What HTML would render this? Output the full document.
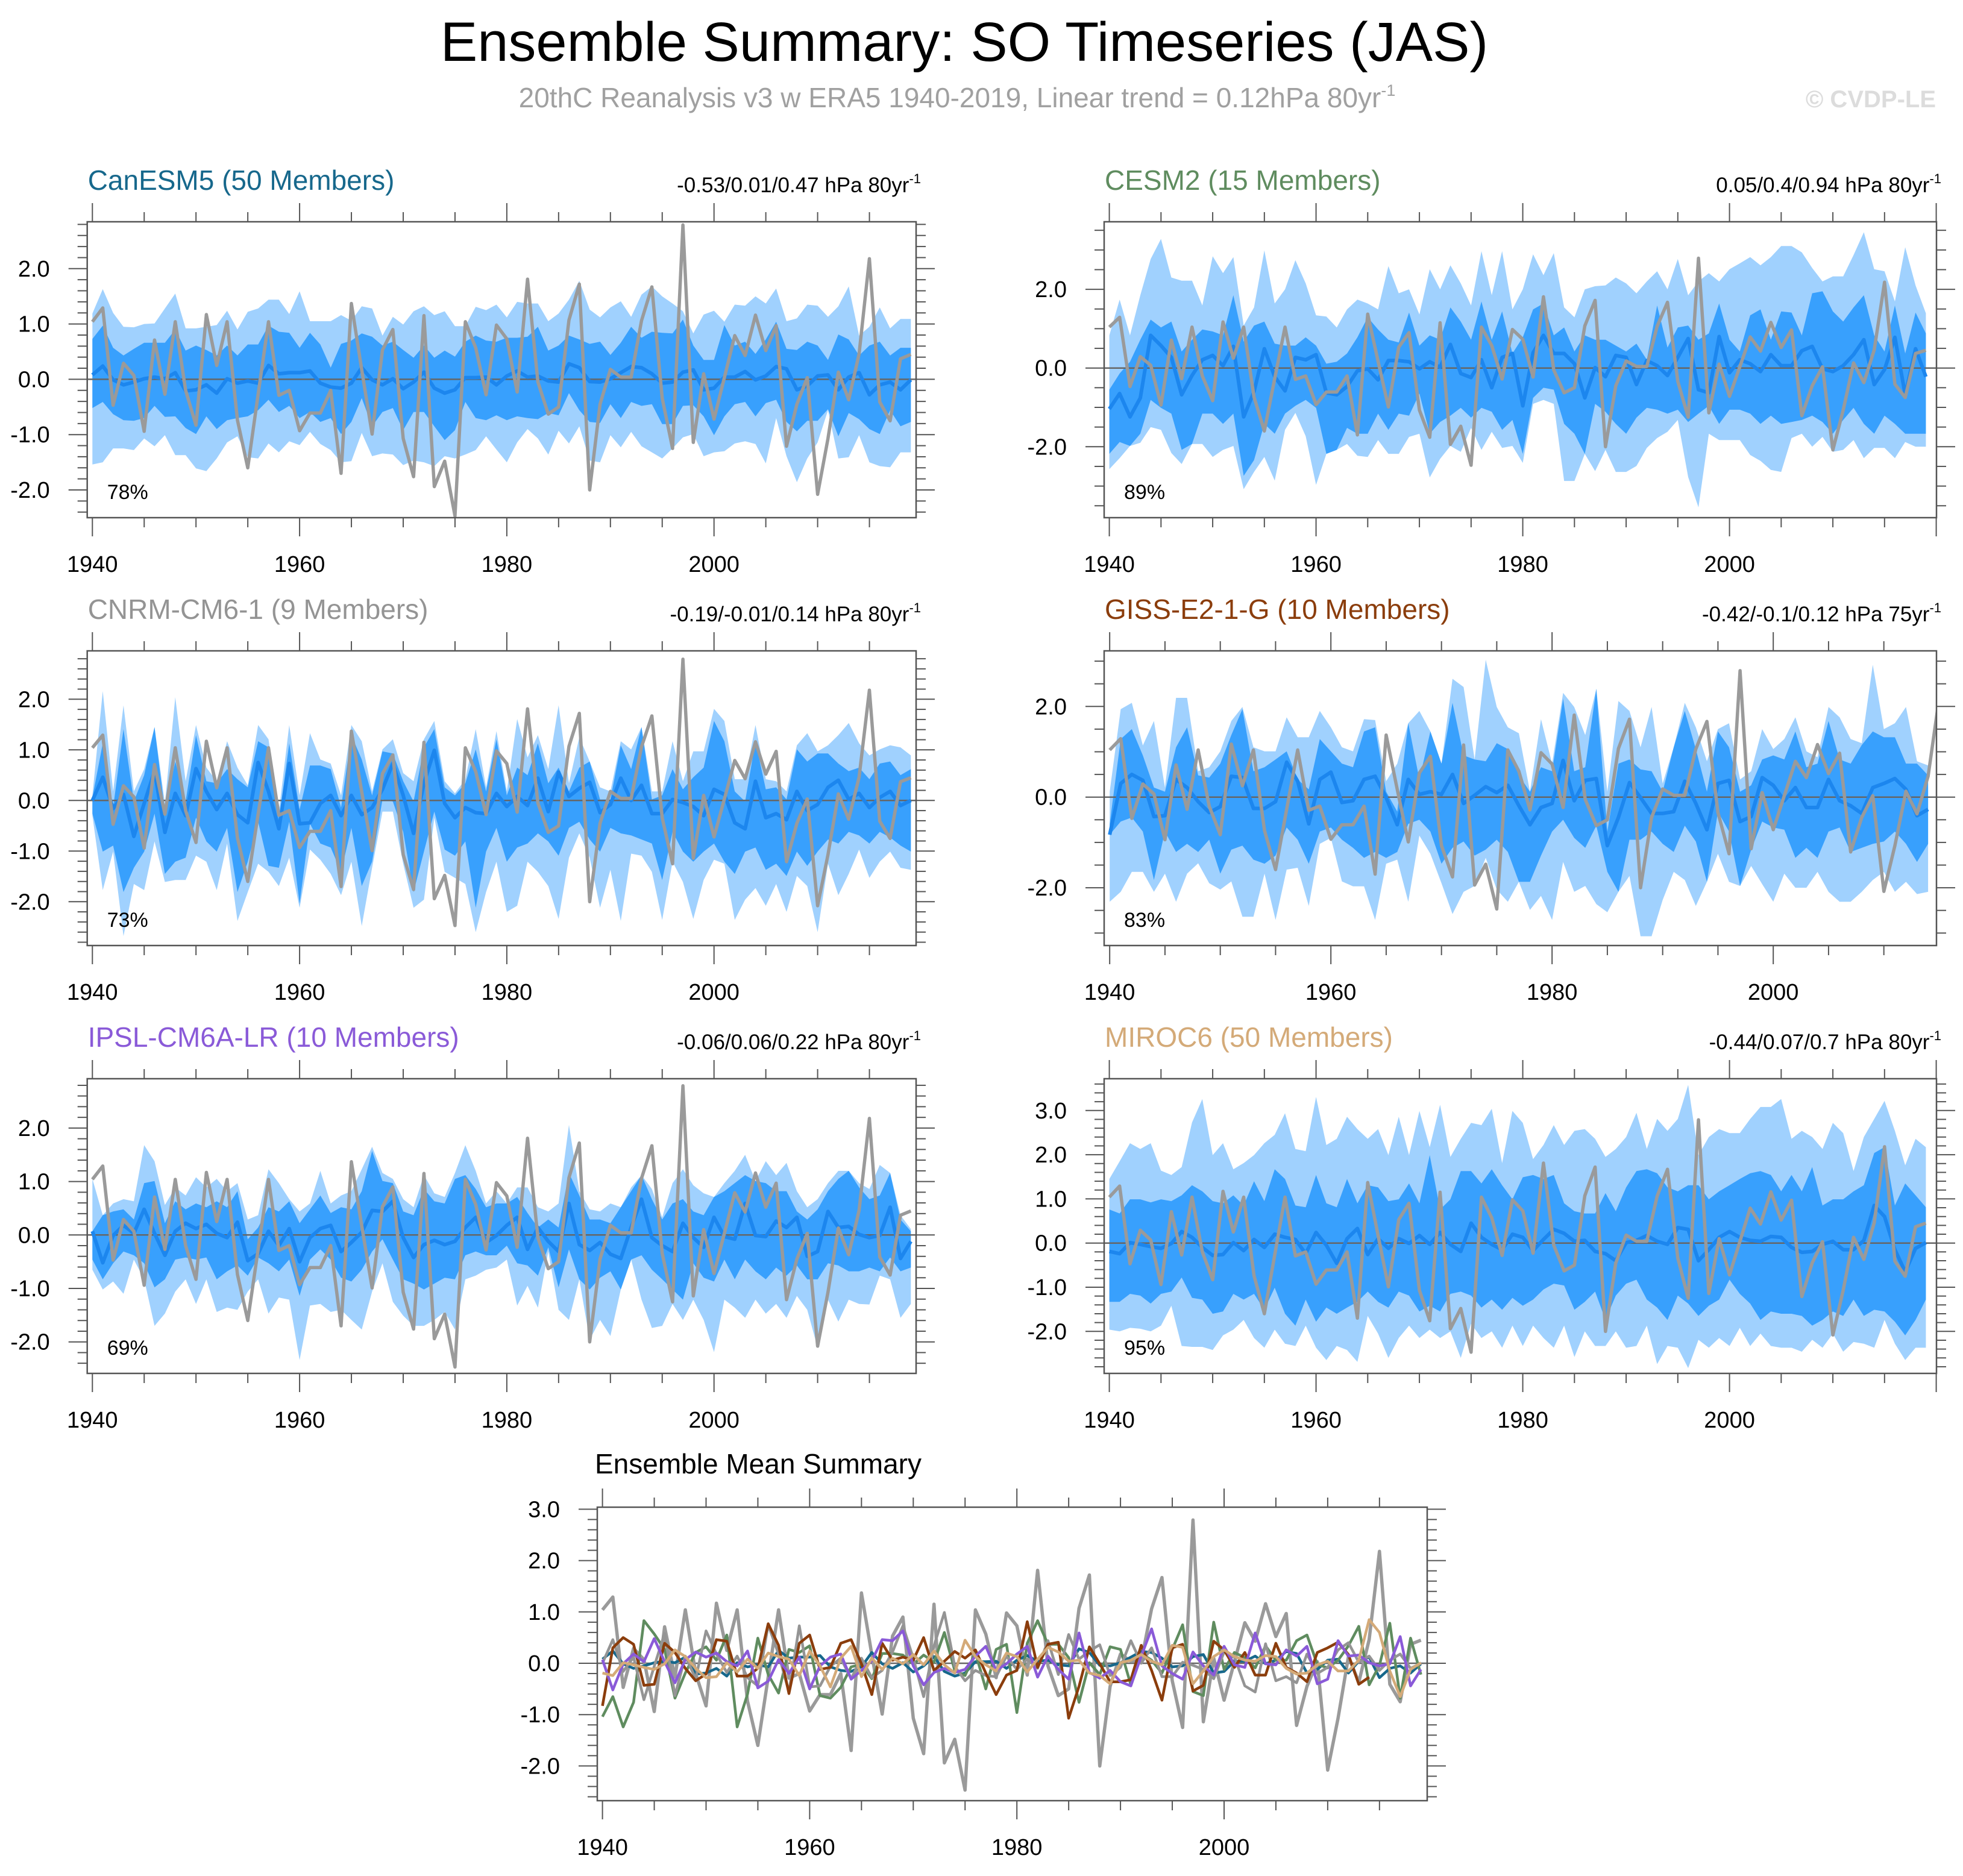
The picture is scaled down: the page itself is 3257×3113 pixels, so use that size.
<!DOCTYPE html>
<html><head><meta charset="utf-8"><title>Ensemble Summary: SO Timeseries (JAS)</title>
<style>
html,body{margin:0;padding:0;background:#fff;}
svg{display:block;font-family:"Liberation Sans",Arial,sans-serif;}
</style></head>
<body>
<svg id="chart" xmlns="http://www.w3.org/2000/svg" width="3257" height="3113" viewBox="0 0 3257 3113">
<text x="1600" y="101" font-size="92" text-anchor="middle" fill="#000">Ensemble Summary: SO Timeseries (JAS)</text>
<text x="1588" y="178" font-size="46" text-anchor="middle" fill="#a0a0a0">20thC Reanalysis v3 w ERA5 1940-2019, Linear trend = 0.12hPa 80yr<tspan font-size="27" dy="-19">-1</tspan></text>
<text x="3212" y="178" font-size="40" font-weight="bold" text-anchor="end" fill="#dcdcdc">© CVDP-LE</text>
<text x="987" y="2445" font-size="46" fill="#000">Ensemble Mean Summary</text>
<g id="panels"></g>
</svg>
<script>
const obs = [1.04,1.29,-0.47,0.29,0.07,-0.94,0.71,-0.27,1.04,-0.2,-0.83,1.17,0.25,1.04,-0.74,-1.6,-0.27,1.04,-0.29,-0.2,-0.93,-0.61,-0.61,-0.2,-1.7,1.37,0.17,-0.99,0.53,0.9,-1.07,-1.76,1.15,-1.94,-1.48,-2.47,1.04,0.57,-0.28,0.98,0.73,-0.23,1.81,-0.05,-0.63,-0.5,1.07,1.72,-2.0,-0.45,0.18,0.04,0.04,1.06,1.67,-0.34,-1.25,2.79,-1.14,0.1,-0.72,0.03,0.79,0.43,1.16,0.52,0.97,-1.21,-0.45,0.03,-2.08,-1.07,0.13,-0.37,0.46,2.18,-0.41,-0.75,0.37,0.45];

const canMean = [0.08,0.24,-0.01,-0.1,-0.05,0.01,0.04,0.01,0.12,-0.21,-0.19,-0.1,-0.25,0.01,-0.07,-0.03,-0.07,0.25,0.1,0.12,0.12,0.15,-0.07,-0.14,-0.16,-0.07,0.21,-0.01,-0.1,0.01,-0.17,-0.05,0.13,-0.16,-0.25,-0.19,0.03,0.03,0.04,-0.1,0.06,0.15,0.04,0.06,-0.03,-0.05,0.28,0.21,-0.04,-0.05,0.01,0.12,0.23,0.21,0.1,-0.07,-0.05,0.13,0.17,-0.19,-0.16,0.04,0.04,0.14,-0.01,0.06,0.23,0.19,-0.19,-0.12,0.06,0.08,-0.19,0.04,0.12,-0.28,-0.1,-0.05,-0.19,-0.01];
const canOutUp = [1.19,1.63,1.2,0.95,0.94,1.0,1.01,1.28,1.55,0.92,0.92,0.95,0.98,1.24,0.9,1.22,1.28,1.44,1.44,1.18,1.59,1.05,1.05,1.05,1.16,1.06,1.32,1.28,0.79,1.13,0.99,1.23,1.32,1.16,1.23,0.96,0.96,1.31,1.25,1.35,1.12,1.4,1.37,1.37,1.05,1.19,1.44,1.78,1.26,1.12,1.3,1.41,1.13,1.53,1.68,1.5,1.37,1.23,0.83,1.17,1.24,1.04,1.35,1.33,1.5,1.37,1.64,1.05,1.1,1.35,1.33,1.13,1.32,1.68,0.79,0.95,1.3,0.92,1.09,1.09];
const canInUp = [0.73,0.97,0.57,0.43,0.55,0.66,0.66,0.66,0.9,0.52,0.61,0.53,0.43,0.61,0.43,0.63,0.63,0.97,0.86,0.84,0.57,0.84,0.63,0.21,0.64,0.7,0.83,0.77,0.61,0.68,0.53,0.39,0.61,0.39,0.52,0.41,0.68,0.79,0.7,0.68,0.75,0.75,0.77,0.95,0.52,0.61,0.79,0.72,0.64,0.68,0.44,0.66,0.95,0.75,0.86,0.84,0.83,1.08,0.61,0.35,0.35,0.98,0.61,0.68,0.46,0.72,1.04,0.55,0.53,0.68,0.61,0.35,0.81,0.72,0.43,0.61,0.68,0.43,0.57,0.57];
const canInLo = [-0.52,-0.41,-0.63,-0.74,-0.75,-0.7,-0.48,-0.68,-0.67,-0.88,-0.99,-0.67,-0.9,-0.74,-0.7,-0.67,-0.56,-0.37,-0.59,-0.48,-0.7,-0.59,-0.77,-0.7,-0.99,-0.77,-0.34,-0.85,-0.59,-0.52,-0.92,-0.59,-0.59,-0.85,-1.1,-0.92,-0.41,-0.7,-0.74,-0.65,-0.74,-0.67,-0.7,-0.72,-0.61,-0.65,-0.25,-0.56,-0.77,-0.79,-0.45,-0.7,-0.41,-0.48,-0.45,-0.81,-0.81,-0.48,-0.47,-0.67,-1.01,-0.67,-0.45,-0.41,-0.67,-0.43,-0.37,-0.77,-0.94,-0.75,-0.75,-0.54,-1.03,-0.61,-0.72,-0.9,-0.99,-0.56,-0.85,-0.77];
const canOutLo = [-1.54,-1.5,-1.25,-1.25,-1.28,-1.07,-1.21,-1.01,-1.37,-1.37,-1.61,-1.66,-1.43,-1.14,-1.03,-1.41,-1.43,-1.16,-1.32,-1.12,-1.19,-0.95,-1.17,-1.28,-1.5,-1.48,-0.97,-1.39,-1.34,-1.36,-1.55,-1.47,-1.5,-1.57,-1.39,-1.43,-1.36,-1.28,-1.03,-1.27,-1.5,-1.14,-0.9,-1.07,-1.36,-0.93,-1.16,-0.85,-1.47,-1.5,-1.01,-1.23,-0.95,-1.21,-1.32,-1.43,-1.25,-1.05,-0.99,-1.39,-1.32,-1.3,-1.16,-1.12,-1.17,-1.52,-0.7,-1.39,-1.86,-1.43,-1.14,-0.56,-1.43,-1.41,-1.01,-1.5,-1.57,-1.59,-1.32,-1.32];

const cesmMean = [-1.04,-0.65,-1.24,-0.76,0.83,0.57,0.27,-0.68,-0.19,0.21,0.32,0.06,0.55,-1.24,-0.6,0.49,-0.22,-0.58,0.27,0.21,0.34,-0.63,-0.68,-0.47,-0.07,-0.02,-0.3,0.19,0.19,0.16,-0.02,0.16,0.02,0.6,-0.14,-0.24,0.21,-0.5,0.27,0.37,-0.96,0.39,0.83,0.37,0.37,0.11,-0.76,0.01,-0.22,0.32,0.27,-0.42,0.19,0.06,-0.19,0.27,0.75,-0.55,-0.63,0.8,-0.12,0.21,0.11,-0.09,0.34,0.06,0.06,0.44,0.55,-0.02,-0.09,0.06,0.34,0.72,-0.42,-0.04,0.78,-0.68,0.49,-0.22];
const cesmOutUp = [0.83,1.74,0.83,1.85,2.77,3.28,2.3,2.22,2.22,1.59,2.84,2.41,2.82,1.08,1.54,2.99,1.64,2.0,2.74,2.15,1.34,1.31,1.03,1.49,1.74,1.64,1.49,2.59,1.9,2.0,1.36,2.51,2.0,2.61,2.15,1.59,2.97,1.85,2.97,1.49,2.0,2.89,2.36,2.92,1.54,1.29,2.0,2.08,2.1,2.3,2.15,1.9,2.2,2.46,2.0,2.77,1.85,2.2,2.41,2.2,2.51,2.66,2.82,2.61,2.82,3.1,3.1,2.94,2.54,2.2,2.33,2.33,2.87,3.45,2.51,2.46,1.69,3.07,2.1,1.39];
const cesmInUp = [-0.55,-0.14,0.16,0.72,1.23,1.03,1.18,0.42,0.72,0.98,0.93,0.83,1.85,0.67,1.08,1.18,0.62,0.57,0.57,0.78,0.57,0.11,0.16,0.37,0.78,1.29,0.98,0.72,0.65,1.41,0.57,0.83,0.72,1.54,1.18,0.72,1.69,0.72,1.44,0.21,0.78,1.49,1.64,0.83,1.03,0.42,0.83,0.72,0.72,0.57,0.42,0.62,0.21,1.59,0.52,1.03,1.08,0.72,0.88,1.64,0.72,0.42,1.34,1.49,0.72,1.44,1.41,0.83,1.9,1.95,1.44,1.18,1.54,1.85,0.83,0.42,1.59,0.37,1.41,0.88];
const cesmInLo = [-2.18,-1.88,-1.98,-1.67,-0.81,-1.01,-1.16,-2.08,-1.93,-1.16,-1.16,-1.42,-1.16,-2.74,-2.34,-1.42,-1.67,-1.16,-0.96,-0.81,-1.01,-2.18,-2.08,-1.52,-1.67,-1.67,-1.16,-1.57,-1.16,-1.21,-0.65,-1.67,-1.37,-1.21,-1.01,-1.26,-1.01,-1.11,-1.57,-1.32,-2.18,-0.76,-0.5,-0.55,-1.42,-1.67,-2.18,-0.91,-1.11,-1.42,-1.67,-1.26,-1.01,-1.06,-1.16,-1.06,-1.37,-1.16,-0.96,-1.42,-1.06,-1.06,-1.16,-1.42,-1.21,-1.42,-1.37,-1.32,-1.21,-1.37,-1.67,-1.32,-1.01,-1.42,-1.67,-1.21,-1.42,-1.67,-1.67,-1.67];
const cesmOutLo = [-2.57,-2.29,-1.98,-1.9,-1.5,-1.57,-2.16,-2.44,-1.83,-1.93,-2.26,-2.08,-1.98,-3.08,-2.64,-2.26,-2.86,-1.57,-1.14,-1.73,-2.97,-1.93,-1.78,-1.93,-2.23,-2.26,-1.83,-2.18,-2.18,-1.75,-1.67,-2.78,-2.31,-1.98,-2.13,-1.52,-2.08,-1.62,-2.03,-1.98,-2.41,-0.91,-0.81,-0.91,-2.87,-2.87,-2.18,-2.62,-2.08,-2.64,-2.64,-2.49,-2.03,-1.78,-1.62,-1.32,-2.77,-3.54,-1.67,-1.83,-1.83,-1.83,-2.21,-2.36,-2.59,-2.64,-1.78,-1.67,-2.0,-1.75,-2.13,-2.08,-1.83,-2.29,-2.03,-2.03,-2.29,-1.88,-2.0,-2.0];

const cnrmMean = [0.0,0.46,-0.16,0.12,-0.71,-0.06,0.58,-0.63,0.14,-0.3,0.63,0.18,-0.18,0.14,-0.28,-0.44,0.75,0.18,-0.56,0.73,-0.46,-0.44,-0.06,0.1,-0.3,0.1,-0.28,-0.14,0.22,0.73,0.1,-0.65,0.34,0.99,-0.06,-0.34,-0.14,-0.24,-0.26,0.14,-0.12,0.08,-0.1,0.44,-0.22,0.56,0.08,0.24,0.36,-0.24,-0.08,0.44,0.0,0.3,-0.26,-0.26,0.02,-0.04,-0.12,-0.3,0.22,0.12,-0.44,-0.56,0.38,-0.34,-0.26,-0.38,0.18,-0.2,-0.08,0.26,0.4,0.02,0.14,-0.14,0.06,0.18,-0.1,0.0];
const cnrmOutUp = [0.1,2.16,0.18,1.88,0.18,0.62,1.45,-0.06,2.04,0.38,1.49,0.65,0.38,1.17,0.65,0.3,1.49,1.21,-0.22,1.49,0.1,1.33,0.81,0.73,0.1,1.49,1.17,0.18,1.01,1.21,0.54,0.38,1.21,1.57,0.38,0.14,0.42,1.41,0.26,1.37,0.18,1.61,0.85,1.29,0.62,1.88,0.34,1.25,0.73,0.26,0.18,1.17,1.01,0.81,0.18,0.18,1.17,0.38,0.97,0.97,1.81,1.57,0.42,0.42,1.49,0.42,0.38,0.18,1.09,1.33,0.97,1.09,1.29,1.53,1.13,0.89,1.01,1.09,1.05,0.89];
const cnrmInUp = [0.06,1.13,-0.14,1.41,-0.02,0.5,1.45,-0.22,0.77,-0.02,1.29,0.38,0.34,0.62,0.42,0.26,1.17,1.05,-0.38,1.13,-0.18,0.69,0.69,0.62,-0.14,1.29,0.81,0.1,0.97,0.93,0.38,-0.02,1.05,1.41,0.26,0.1,0.34,1.01,0.18,1.21,0.1,0.65,0.5,1.13,0.34,0.65,0.18,0.65,0.77,0.02,0.02,1.09,0.62,1.45,0.02,0.1,0.62,0.22,0.46,0.65,1.57,1.17,0.18,-0.02,1.17,0.22,0.26,0.02,1.01,0.77,0.93,0.93,0.73,0.58,0.65,0.42,0.73,0.77,0.5,0.62];
const cnrmInLo = [-0.26,-1.01,-0.89,-1.81,-1.33,-1.01,-0.26,-1.45,-1.21,-1.13,-0.34,-0.81,-1.01,-0.54,-1.81,-1.21,-0.42,-1.29,-1.33,-0.42,-2.04,-0.46,-0.85,-0.93,-1.41,-0.54,-1.69,-1.21,0.02,-0.02,-0.62,-1.81,-1.01,-0.22,-0.97,-1.09,-0.81,-2.12,-1.01,-0.54,-1.21,-0.93,-0.85,-0.65,-0.81,-1.09,-0.54,-0.42,-0.77,-1.01,-0.54,-0.65,-0.69,-0.77,-0.85,-1.57,-0.62,-1.01,-1.21,-1.01,-0.85,-1.21,-1.45,-1.01,-0.93,-1.37,-1.25,-1.49,-1.01,-1.29,-1.01,-0.77,-0.85,-0.62,-0.69,-0.85,-0.62,-0.73,-0.89,-1.01];
const cnrmOutLo = [-0.3,-1.77,-1.01,-2.68,-1.65,-1.77,-0.81,-1.61,-1.57,-1.57,-1.09,-1.21,-1.77,-0.85,-2.38,-1.81,-1.25,-1.41,-1.69,-1.13,-2.12,-0.97,-1.17,-1.45,-1.87,-1.21,-2.48,-1.33,-0.22,-0.22,-1.25,-2.12,-1.96,-0.34,-1.41,-1.53,-1.65,-2.6,-1.81,-1.21,-2.2,-2.08,-1.21,-1.41,-1.69,-2.34,-1.13,-0.65,-1.13,-2.12,-1.37,-2.38,-1.05,-1.09,-1.41,-2.36,-1.21,-1.61,-2.34,-1.57,-1.17,-1.25,-2.36,-1.96,-1.73,-2.08,-1.65,-2.2,-1.49,-1.69,-2.6,-1.25,-1.87,-1.45,-0.97,-1.53,-1.21,-1.01,-1.33,-1.37];

const gissMean = [-0.83,0.3,0.5,0.37,-0.43,-0.41,0.39,0.21,-0.1,-0.34,-0.21,0.46,0.43,-0.25,-0.25,-0.1,0.77,0.35,-0.59,0.39,0.55,-0.12,-0.08,0.39,0.46,-0.01,-0.61,0.39,0.06,0.12,0.06,0.5,-0.14,0.04,0.23,0.1,0.26,-0.19,-0.61,-0.23,-0.14,0.81,-0.08,0.37,0.41,-1.07,-0.45,0.32,-0.01,-0.36,-0.36,-0.32,0.35,-0.14,-0.72,0.3,0.37,-0.54,-0.43,0.43,0.26,-0.08,0.21,-0.23,-0.23,0.39,-0.08,-0.19,-0.36,0.21,0.3,0.41,0.17,-0.41,-0.27];
const gissOutUp = [0.12,1.94,2.08,1.14,1.68,0.21,2.19,2.19,0.57,0.66,1.01,1.68,1.99,1.1,1.01,1.01,1.76,1.32,1.32,1.9,1.54,1.1,1.01,1.72,1.7,0.35,0.74,1.63,1.9,1.06,0.74,2.61,2.43,0.79,3.03,1.99,1.54,1.41,0.12,1.72,0.74,2.3,1.99,1.37,2.34,0.12,2.12,1.9,1.1,1.99,0.3,0.74,2.08,1.54,0.79,1.5,1.63,0.39,0.57,1.5,1.06,1.28,1.76,1.01,0.88,1.99,1.76,1.28,1.19,2.92,1.5,1.63,1.99,0.79,0.7];
const gissInUp = [-0.59,1.28,1.5,0.92,0.21,0.12,1.1,1.54,0.48,0.43,0.74,1.37,1.94,0.57,0.66,0.83,1.01,0.39,0.17,1.28,1.01,0.74,0.66,1.45,1.54,0.12,-0.32,1.63,0.39,1.45,0.74,2.08,0.92,0.83,0.79,1.19,1.06,0.48,0.12,0.66,0.57,2.17,0.57,0.66,2.39,-0.76,0.74,0.83,0.61,0.57,0.12,1.1,1.9,1.06,0.12,1.45,1.1,0.12,0.26,0.83,0.92,0.83,1.45,0.66,0.74,1.68,0.83,0.74,1.15,1.45,1.32,1.32,0.74,0.74,0.48];
const gissInLo = [-0.76,-0.54,-0.45,-0.76,-1.83,-0.76,-1.21,-1.03,-1.21,-0.94,-1.69,-1.16,-1.07,-1.38,-1.47,-1.29,-0.67,-0.94,-1.47,-0.76,-0.67,-0.94,-1.12,-1.34,-1.21,-1.34,-1.21,-0.59,-0.5,-0.76,-1.47,-1.12,-0.98,-1.29,-1.16,-0.94,-1.21,-1.87,-1.87,-1.29,-0.76,-0.5,-0.9,-1.12,-0.63,-1.65,-2.09,-0.94,-0.94,-0.76,-1.03,-1.21,-0.63,-0.98,-1.87,-0.32,-0.76,-1.96,-1.16,-0.54,-0.67,-0.72,-1.34,-1.12,-1.34,-0.76,-0.67,-1.21,-1.12,-1.03,-0.98,-0.76,-1.03,-1.43,-1.03];
const gissOutLo = [-2.31,-2.09,-1.65,-1.65,-2.09,-1.69,-2.31,-1.69,-1.46,-1.9,-2.04,-1.86,-2.64,-2.64,-1.69,-2.71,-1.6,-1.56,-2.4,-1.03,-0.9,-1.86,-1.97,-1.97,-2.71,-1.47,-1.38,-2.31,-0.85,-1.25,-1.9,-2.58,-2.09,-1.96,-1.34,-2.04,-2.31,-1.47,-2.49,-2.18,-2.71,-1.43,-2.09,-1.96,-2.36,-2.54,-1.74,-1.74,-3.07,-3.07,-2.27,-1.65,-1.83,-2.4,-1.87,-1.25,-1.87,-1.43,-1.52,-1.92,-2.31,-1.69,-2.0,-2.0,-1.65,-2.09,-2.31,-2.31,-2.09,-1.83,-1.65,-2.09,-1.87,-2.14,-2.09];

const ipslMean = [0.07,-0.52,-0.01,0.18,0.03,0.48,0.03,-0.38,0.07,0.22,0.12,0.2,0.03,-0.05,0.24,-0.48,-0.35,0.07,-0.2,0.12,-0.5,-0.05,0.12,0.18,-0.31,-0.14,0.05,0.46,0.44,0.63,-0.05,-0.42,-0.18,-0.1,-0.18,-0.12,0.14,0.33,-0.14,-0.01,0.18,0.33,-0.27,0.14,-0.12,-0.31,0.59,-0.18,-0.29,-0.14,-0.36,-0.44,0.14,0.67,-0.05,-0.2,-0.31,0.22,-0.05,-0.23,0.33,-0.03,-0.08,0.59,-0.01,-0.03,0.26,0.14,0.33,-0.4,-0.31,0.44,0.14,0.16,0.01,-0.05,-0.01,0.52,-0.44,-0.12];
const ipslOutUp = [1.05,0.37,0.59,0.67,0.63,1.68,1.38,0.56,0.89,0.74,1.08,0.89,1.05,0.82,0.97,0.29,0.37,1.23,0.97,0.67,0.44,0.59,1.2,0.59,0.74,0.82,1.23,1.65,1.16,1.05,0.67,0.52,1.12,0.78,0.71,1.16,1.68,1.2,0.59,0.82,0.56,0.89,0.89,0.52,0.44,0.59,2.06,0.82,0.48,0.44,0.59,0.29,0.89,1.12,0.86,0.33,0.97,1.23,0.93,0.78,0.59,0.97,1.2,1.5,0.89,1.38,1.12,1.35,0.82,0.52,0.67,0.97,1.2,1.05,0.97,0.86,1.31,0.67,0.37,0.11];
const ipslInUp = [0.03,0.37,0.44,0.48,0.29,0.97,1.01,0.22,0.63,0.48,0.59,0.52,0.63,0.52,0.82,-0.08,0.14,0.52,0.44,0.63,0.22,0.48,0.74,0.41,0.52,0.48,0.82,1.57,1.01,0.97,0.44,0.37,0.86,0.63,0.59,1.05,1.12,0.86,0.52,0.59,0.59,0.71,0.41,0.14,0.29,0.14,1.16,0.74,0.29,0.29,0.22,0.52,0.82,1.12,0.67,0.29,0.59,0.67,0.44,0.37,0.71,0.82,0.97,1.12,1.01,0.97,0.82,0.82,0.44,0.29,0.48,0.82,1.05,1.2,0.89,0.67,0.74,1.16,0.29,0.07];
const ipslInLo = [-0.46,-0.83,-0.53,-0.31,-0.38,-0.53,-0.98,-0.83,-0.46,-0.42,-0.46,-0.42,-0.83,-0.68,-0.57,-0.76,-0.42,-0.53,-0.68,-0.46,-1.14,-0.46,-0.27,-0.46,-0.8,-0.87,-0.65,-0.31,-0.08,-0.46,-0.83,-0.91,-1.02,-0.91,-0.8,-0.83,-0.38,-0.31,-0.38,-0.38,-0.2,-0.53,-0.57,-0.76,-0.23,-0.98,-0.27,-0.83,-1.02,-0.8,-0.68,-1.02,-0.46,-0.38,-0.65,-0.83,-1.02,-1.21,-0.53,-0.8,-0.87,-0.46,-0.83,-0.46,-0.68,-0.83,-0.61,-0.76,-0.57,-0.83,-0.83,-0.53,-0.57,-0.68,-0.68,-0.61,-0.68,-0.42,-0.68,-0.61];
const ipslOutLo = [-0.65,-1.02,-0.87,-1.1,-0.46,-0.83,-1.7,-1.47,-1.06,-0.83,-1.29,-0.83,-1.44,-1.36,-1.4,-1.06,-0.83,-1.47,-1.17,-1.21,-2.34,-1.32,-1.29,-1.44,-1.4,-1.59,-1.77,-1.06,-0.53,-1.25,-1.51,-1.7,-1.7,-1.59,-1.44,-1.77,-0.83,-0.76,-0.65,-0.61,-0.46,-1.32,-0.95,-1.36,-0.31,-1.4,-1.59,-0.83,-1.96,-1.59,-1.89,-0.83,-0.46,-1.21,-1.74,-1.7,-1.29,-1.59,-1.21,-1.59,-2.19,-1.21,-1.36,-1.55,-1.21,-1.47,-1.29,-1.55,-1.14,-1.4,-2.11,-1.21,-1.62,-1.21,-1.29,-1.3,-0.76,-0.83,-1.55,-1.29];

const mirocMean = [-0.19,-0.24,0.01,-0.03,-0.08,-0.12,-0.01,0.26,0.13,-0.1,-0.28,-0.26,0.01,-0.17,0.08,-0.1,0.2,0.13,0.08,-0.24,0.24,-0.05,-0.46,0.1,0.33,-0.26,0.1,-0.12,0.1,-0.01,0.17,-0.03,0.24,-0.03,-0.19,0.45,0.13,-0.03,-0.15,0.2,0.13,-0.17,0.08,0.31,0.22,0.04,0.06,-0.19,-0.24,-0.4,0.01,0.06,0.17,0.04,-0.03,0.35,0.31,-0.4,-0.15,0.13,0.26,0.13,0.06,0.04,0.15,0.13,-0.1,-0.21,-0.19,-0.03,0.04,-0.15,-0.15,0.06,0.85,0.6,-0.15,-0.65,-0.12,0.01];
const mirocOutUp = [1.45,1.85,2.26,2.13,2.26,1.64,1.54,1.72,2.73,3.26,1.99,2.26,1.67,1.81,1.99,2.26,2.45,2.94,2.13,2.08,3.31,2.22,2.36,2.86,2.58,2.36,2.58,1.99,2.86,1.99,2.99,2.17,3.13,1.95,2.36,2.72,2.67,3.04,1.81,2.99,2.72,1.9,2.22,2.67,2.22,2.54,2.58,2.36,1.95,2.13,2.4,2.95,2.13,2.81,2.54,2.81,3.58,1.99,2.4,2.58,2.49,2.49,2.81,3.08,3.08,3.26,2.36,2.54,2.4,2.13,2.72,2.49,1.63,2.4,2.81,3.22,2.54,1.76,2.36,2.17];
const mirocInUp = [0.76,0.67,0.99,0.99,0.92,0.99,0.95,1.08,1.31,1.17,0.95,0.9,1.08,0.85,1.4,0.95,1.67,1.45,0.85,0.81,1.54,0.9,0.81,1.45,0.9,1.31,1.26,0.95,0.99,1.35,0.9,1.99,0.76,0.99,1.63,1.63,1.35,1.67,1.31,0.99,1.49,1.54,1.45,1.54,0.9,0.72,0.67,0.67,1.13,0.72,1.26,1.63,1.67,1.58,1.26,1.17,1.31,1.31,0.99,1.17,1.31,1.45,1.58,1.63,1.54,1.17,1.54,1.17,1.72,0.85,0.99,0.99,1.17,1.31,2.04,2.17,0.85,1.35,1.08,0.81];
const mirocInLo = [-1.33,-1.33,-1.15,-1.19,-1.37,-1.15,-1.1,-0.78,-1.24,-1.28,-1.6,-1.55,-1.15,-1.28,-1.15,-1.51,-1.01,-1.6,-1.87,-1.28,-1.78,-1.46,-1.6,-1.46,-1.33,-1.1,-1.33,-1.46,-1.1,-1.19,-1.55,-1.42,-1.55,-1.15,-1.1,-1.19,-1.46,-1.28,-1.51,-1.24,-1.42,-1.28,-1.05,-0.92,-0.96,-1.51,-1.33,-1.1,-1.74,-1.19,-0.92,-0.83,-1.28,-1.46,-1.74,-1.19,-1.37,-1.65,-1.42,-1.28,-0.83,-1.15,-1.37,-1.74,-1.55,-1.6,-1.6,-1.65,-1.87,-1.74,-1.55,-1.65,-1.28,-1.65,-1.51,-1.55,-1.78,-2.09,-1.74,-1.28];
const mirocOutLo = [-1.96,-2.0,-1.92,-1.94,-2.0,-1.87,-1.42,-2.33,-2.35,-2.35,-2.42,-2.09,-1.96,-1.74,-2.15,-2.37,-1.96,-2.28,-2.33,-1.87,-2.37,-2.65,-2.33,-2.42,-2.69,-1.65,-2.05,-2.6,-2.15,-1.87,-2.15,-1.96,-2.15,-2.0,-2.6,-1.83,-2.15,-2.0,-2.37,-1.87,-2.33,-1.87,-2.15,-2.37,-1.87,-2.58,-2.0,-2.33,-2.33,-2.0,-2.37,-2.33,-1.87,-2.74,-2.33,-2.37,-2.83,-2.19,-2.37,-2.15,-2.33,-1.92,-2.33,-2.05,-2.33,-2.37,-2.37,-2.46,-2.19,-2.37,-2.05,-2.46,-2.24,-2.28,-2.37,-1.74,-2.28,-2.65,-2.37,-2.37];

const xTickLabels = [1940,1960,1980,2000];
const yTicksA = [-2,-1,0,1,2];
const yTicksB = [-2,0,2];
const yTicksC = [-2,-1,0,1,2,3];

const NS = "http://www.w3.org/2000/svg";
const root = document.getElementById("panels");
function mk(tag, attrs, parent){
  const e = document.createElementNS(NS, tag);
  for (const k in attrs) e.setAttribute(k, attrs[k]);
  (parent||root).appendChild(e);
  return e;
}
const LIGHT="#a0d1fe", DARK="#38a0fd", MEANC="#1c86ee", OBSC="#9a9a9a", AX="#555";

const panels = [
 {key:"canesm5", title:"CanESM5 (50 Members)", color:"#17688c", stats:"-0.53/0.01/0.47 hPa 80yr", pct:"78%", x0:144.7,x1:1520,top:368,bot:859,zero:629.4,unit:91.8,step:17.19,yt:yTicksA,minor:0.2, mean:canMean,ou:canOutUp,iu:canInUp,il:canInLo,ol:canOutLo},
 {key:"cesm2", title:"CESM2 (15 Members)", color:"#5f8c5f", stats:"0.05/0.4/0.94 hPa 80yr", pct:"89%", x0:1832,x1:3213,top:368,bot:859,zero:610.7,unit:65.3,step:17.15,yt:yTicksB,minor:0.5, mean:cesmMean,ou:cesmOutUp,iu:cesmInUp,il:cesmInLo,ol:cesmOutLo},
 {key:"cnrm-cm6-1", title:"CNRM-CM6-1 (9 Members)", color:"#949494", stats:"-0.19/-0.01/0.14 hPa 80yr", pct:"73%", x0:144.7,x1:1520,top:1080,bot:1569,zero:1328.3,unit:84,step:17.19,yt:yTicksA,minor:0.2, mean:cnrmMean,ou:cnrmOutUp,iu:cnrmInUp,il:cnrmInLo,ol:cnrmOutLo},
 {key:"giss-e2-1-g", title:"GISS-E2-1-G (10 Members)", color:"#8b3d0c", stats:"-0.42/-0.1/0.12 hPa 75yr", pct:"83%", x0:1832,x1:3213,top:1080,bot:1569,zero:1322.7,unit:75.2,step:18.35,yt:yTicksB,minor:0.5, mean:gissMean,ou:gissOutUp,iu:gissInUp,il:gissInLo,ol:gissOutLo},
 {key:"ipsl-cm6a-lr", title:"IPSL-CM6A-LR (10 Members)", color:"#8a5ad8", stats:"-0.06/0.06/0.22 hPa 80yr", pct:"69%", x0:144.7,x1:1520,top:1790,bot:2279,zero:2049.3,unit:88.7,step:17.19,yt:yTicksA,minor:0.2, mean:ipslMean,ou:ipslOutUp,iu:ipslInUp,il:ipslInLo,ol:ipslOutLo},
 {key:"miroc6", title:"MIROC6 (50 Members)", color:"#d4aa78", stats:"-0.44/0.07/0.7 hPa 80yr", pct:"95%", x0:1832,x1:3213,top:1790,bot:2279,zero:2062.7,unit:73.3,step:17.15,yt:yTicksC,minor:0.2, mean:mirocMean,ou:mirocOutUp,iu:mirocInUp,il:mirocInLo,ol:mirocOutLo}
];
const summary = {key:"ensemble-mean", x0:991,x1:2368,top:2501,bot:2988,zero:2760,unit:85.2,step:17.19,yt:yTicksC,minor:0.2};
const XMIN = 1939.5;

function axes(p){
  const sx = yr => p.x0 + (yr - XMIN)*p.step;
  const sy = v => p.zero - v*p.unit;
  return {sx, sy};
}
function linePath(arr, sx, sy){
  return arr.map((v,i)=>(i?"L":"M")+sx(1940+i).toFixed(1)+","+sy(v).toFixed(1)).join("");
}
function bandPath(up, lo, sx, sy){
  let d = up.map((v,i)=>(i?"L":"M")+sx(1940+i).toFixed(1)+","+sy(v).toFixed(1)).join("");
  for (let i=lo.length-1;i>=0;i--) d += "L"+sx(1940+i).toFixed(1)+","+sy(lo[i]).toFixed(1);
  return d+"Z";
}
function frame(p, g){
  const {sx, sy} = axes(p);
  const ymax = (p.zero - p.top)/p.unit, ymin = (p.zero - p.bot)/p.unit;
  const nMin = Math.ceil(ymin/p.minor - 1e-6), nMax = Math.floor(ymax/p.minor + 1e-6);
  for (let k=nMin;k<=nMax;k++){
    const v = k*p.minor; const y = sy(v);
    const major = p.yt.some(t=>Math.abs(t-v)<1e-6);
    const L = major?31:16;
    const t1 = mk("line",{x1:p.x0-L,x2:p.x0,y1:y,y2:y,stroke:AX,"stroke-width":2},g);
    
    
    const t2 = mk("line",{x1:p.x1,x2:p.x1+L,y1:y,y2:y,stroke:AX,"stroke-width":2},g);
    
    
  }
  p.yt.forEach(v=>{
    const t = mk("text",{x:p.x0-62,y:sy(v)+13,"font-size":38,"text-anchor":"end",fill:"#000"},g);
    t.textContent = v.toFixed(1);
    
    
  });
  const lastYr = Math.floor(XMIN + (p.x1-p.x0)/p.step);
  for (let yr=1940; yr<=lastYr; yr+=5){
    const x = sx(yr); const major = (yr%20===0); const L = major?31:16;
    const a = mk("line",{x1:x,x2:x,y1:p.top-L,y2:p.top,stroke:AX,"stroke-width":2},g);
    
    
    const b = mk("line",{x1:x,x2:x,y1:p.bot,y2:p.bot+L,stroke:AX,"stroke-width":2},g);
    
    
  }
  xTickLabels.forEach(yr=>{
    const t = mk("text",{x:sx(yr),y:p.bot+90,"font-size":38,"text-anchor":"middle",fill:"#000"},g);
    t.textContent = String(yr);
    
    
  });
  return {sx, sy};
}
function clipFor(p){
  const defs = mk("defs",{});
  const cp = mk("clipPath",{id:"clip-"+p.key},defs);
  mk("rect",{x:p.x0,y:p.top,width:p.x1-p.x0,height:p.bot-p.top},cp);
  return "url(#clip-"+p.key+")";
}

panels.forEach(p=>{
  const g = mk("g",{});
  
  
  const {sx, sy} = frame(p, g);
  const clip = clipFor(p);
  const plot = mk("g",{"clip-path":clip},g);
  
  
  const ou = p.ou.map((v,i)=>Math.max(v,p.iu[i],p.mean[i]));
  const ol = p.ol.map((v,i)=>Math.min(v,p.il[i],p.mean[i]));
  const iu = p.iu.map((v,i)=>Math.max(v,p.mean[i]));
  const il = p.il.map((v,i)=>Math.min(v,p.mean[i]));
  const outer = mk("path",{d:bandPath(ou,ol,sx,sy),fill:LIGHT},plot);
  
  
  const inner = mk("path",{d:bandPath(iu,il,sx,sy),fill:DARK},plot);
  
  
  const z = mk("line",{x1:p.x0,x2:p.x1,y1:sy(0),y2:sy(0),stroke:"#666","stroke-width":2.5},plot);
  
  
  const m = mk("path",{d:linePath(p.mean,sx,sy),fill:"none",stroke:MEANC,"stroke-width":6,"stroke-linejoin":"round"},plot);
  
  
  const o = mk("path",{d:linePath(obs,sx,sy),fill:"none",stroke:OBSC,"stroke-width":5.5,"stroke-linejoin":"round"},plot);
  
  
  const box = mk("rect",{x:p.x0,y:p.top,width:p.x1-p.x0,height:p.bot-p.top,fill:"none",stroke:AX,"stroke-width":2.5},g);
  
  
  const pc = mk("text",{x:p.x0+33,y:p.bot-31,"font-size":34,fill:"#000"},g);
  pc.textContent = p.pct;
  
  
  const tt = mk("text",{x:p.x0+1,y:p.top-53,"font-size":46,fill:p.color},g);
  tt.textContent = p.title;
  
  
  const st = mk("text",{x:p.x1+8,y:p.top-49,"font-size":35,"text-anchor":"end",fill:"#000"},g);
  st.textContent = p.stats;
  const sup = mk("tspan",{"font-size":22,dy:-15},st);
  sup.textContent = "-1";
  
  
});

(function(){
  const p = summary;
  const g = mk("g",{});
  
  
  const {sx, sy} = frame(p, g);
  const plot = mk("g",{"clip-path":clipFor(p)},g);
  
  
  const z = mk("line",{x1:p.x0,x2:p.x1,y1:sy(0),y2:sy(0),stroke:"#666","stroke-width":2.5},plot);
  
  
  const o = mk("path",{d:linePath(obs,sx,sy),fill:"none",stroke:OBSC,"stroke-width":5.5,"stroke-linejoin":"round"},plot);
  
  
  panels.forEach(q=>{
    const l = mk("path",{d:linePath(q.mean,sx,sy),fill:"none",stroke:q.color,"stroke-width":4.5,"stroke-linejoin":"round"},plot);
    
    
  });
  const box = mk("rect",{x:p.x0,y:p.top,width:p.x1-p.x0,height:p.bot-p.top,fill:"none",stroke:AX,"stroke-width":2.5},g);
  
  
})();
</script>
</body></html>
